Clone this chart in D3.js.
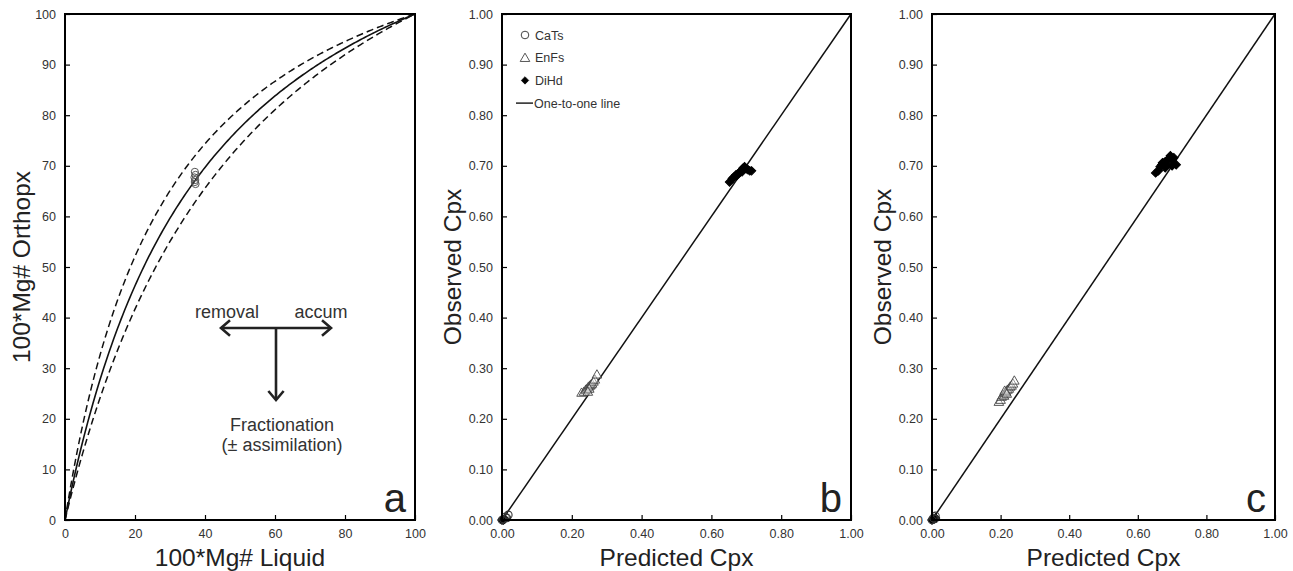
<!DOCTYPE html>
<html>
<head>
<meta charset="utf-8">
<script src="https://cdn.jsdelivr.net/npm/d3@7"></script>
<style>
  html, body { margin: 0; padding: 0; background: #fff; }
  svg { display: block; font-family: "Liberation Sans", Arial, sans-serif; }
</style>
</head>
<body>
<svg id="fig" width="1293" height="571"></svg>
<script>
// ---- Panel a: opx–liquid Fe-Mg equilibrium (Rhodes-style diagram) ----
const kdCentral = 0.29;              // central Kd(Fe-Mg) opx-liq
const kdBand = [0.23, 0.35];         // ± 0.06 envelope
const opxLiquidMg = [37.1, 37.3, 37.0, 37.2, 37.1, 37.3];
const opxObservedMg = [68.8, 68.2, 67.7, 67.2, 66.8, 66.4];
const aTicksX = [0, 20, 40, 60, 80, 100];
const aTicksY = [0, 10, 20, 30, 40, 50, 60, 70, 80, 90, 100];

// ---- Panel b: predicted vs observed cpx components ----
const bCaTsPred = [0.000, 0.004, 0.010, 0.014, 0.018];
const bCaTsObs  = [0.000, 0.002, 0.006, 0.004, 0.010];
const bEnFsPred = [0.228, 0.235, 0.240, 0.244, 0.248, 0.252, 0.255, 0.258, 0.262, 0.266, 0.272, 0.250, 0.246];
const bEnFsObs  = [0.250, 0.252, 0.256, 0.258, 0.262, 0.264, 0.266, 0.268, 0.272, 0.276, 0.286, 0.258, 0.252];
const bDiHdPred = [0.000, 0.004, 0.008, 0.652, 0.660, 0.665, 0.670, 0.675, 0.680, 0.685, 0.690, 0.695, 0.700, 0.705, 0.710, 0.715, 0.688, 0.672];
const bDiHdObs  = [0.000, 0.000, 0.002, 0.668, 0.675, 0.678, 0.682, 0.684, 0.686, 0.690, 0.695, 0.698, 0.694, 0.692, 0.690, 0.690, 0.688, 0.680];

// ---- Panel c: predicted vs observed cpx components ----
const cCaTsPred = [0.000, 0.004, 0.008, 0.010];
const cCaTsObs  = [0.000, 0.004, 0.002, 0.008];
const cEnFsPred = [0.195, 0.200, 0.203, 0.207, 0.210, 0.213, 0.216, 0.220, 0.224, 0.228, 0.232, 0.236, 0.240, 0.212, 0.218];
const cEnFsObs  = [0.232, 0.236, 0.242, 0.246, 0.244, 0.250, 0.252, 0.256, 0.258, 0.262, 0.264, 0.268, 0.274, 0.254, 0.248];
const cDiHdPred = [0.000, 0.006, 0.010, 0.652, 0.660, 0.665, 0.670, 0.675, 0.680, 0.685, 0.690, 0.695, 0.700, 0.705, 0.712, 0.700, 0.680, 0.672];
const cDiHdObs  = [0.000, 0.002, 0.004, 0.686, 0.690, 0.698, 0.702, 0.705, 0.708, 0.702, 0.714, 0.720, 0.712, 0.716, 0.702, 0.700, 0.696, 0.706];

const cpxTicksX = [0, 0.2, 0.4, 0.6, 0.8, 1.0];
const cpxTicksY = [0, 0.1, 0.2, 0.3, 0.4, 0.5, 0.6, 0.7, 0.8, 0.9, 1.0];
const legendLabels = ["CaTs", "EnFs", "DiHd", "One-to-one line"];

const svg = d3.select("#fig");
const TOP = 14, BOTTOM = 520;
const tickColor = "#333";

function drawFrame(g, x, y, ticksX, ticksY, fmt, xTitle, yTitle, letter, yTitleGap) {
  const [x0, x1] = x.range();
  const [y0, y1] = y.range();
  // inward ticks on left and bottom
  g.append("g")
    .attr("transform", `translate(0,${y0})`)
    .call(d3.axisBottom(x).tickValues(ticksX).tickSizeInner(-5).tickSizeOuter(0).tickPadding(9).tickFormat(fmt))
    .call(s => s.select(".domain").remove())
    .call(s => s.selectAll("line").attr("stroke", "#000").attr("stroke-width", 1.2))
    .call(s => s.selectAll("text").attr("font-size", 12.5).attr("fill", tickColor).attr("font-family", "Liberation Sans, Arial, sans-serif"));
  g.append("g")
    .attr("transform", `translate(${x0},0)`)
    .call(d3.axisLeft(y).tickValues(ticksY).tickSizeInner(-5).tickSizeOuter(0).tickPadding(9).tickFormat(fmt))
    .call(s => s.select(".domain").remove())
    .call(s => s.selectAll("line").attr("stroke", "#000").attr("stroke-width", 1.2))
    .call(s => s.selectAll("text").attr("font-size", 12.5).attr("fill", tickColor).attr("font-family", "Liberation Sans, Arial, sans-serif"));
  // full box
  g.append("rect")
    .attr("x", x0).attr("y", y1)
    .attr("width", x1 - x0).attr("height", y0 - y1)
    .attr("fill", "none").attr("stroke", "#000").attr("stroke-width", 2);
  // axis titles
  g.append("text")
    .attr("x", (x0 + x1) / 2).attr("y", y0 + 46)
    .attr("text-anchor", "middle").attr("font-size", 24.5).attr("fill", "#222")
    .text(xTitle);
  g.append("text")
    .attr("transform", `translate(${x0 - yTitleGap},${(y0 + y1) / 2}) rotate(-90)`)
    .attr("text-anchor", "middle").attr("dominant-baseline", "central")
    .attr("font-size", 24.5).attr("fill", "#222")
    .text(yTitle);
  // panel letter
  g.append("text")
    .attr("x", x1 - 9).attr("y", y0 - 8)
    .attr("text-anchor", "end").attr("font-size", 40).attr("fill", "#222")
    .text(letter);
}

function arrowHead(g, tip, dir, size) {
  // open chevron head pointing along dir (unit vector)
  const [dx, dy] = dir;
  const px = -dy, py = dx;
  const b = [tip[0] - dx * size, tip[1] - dy * size];
  g.append("path")
    .attr("d", `M${b[0] + px * size * 0.85},${b[1] + py * size * 0.85}L${tip[0]},${tip[1]}L${b[0] - px * size * 0.85},${b[1] - py * size * 0.85}`)
    .attr("fill", "none").attr("stroke", "#222").attr("stroke-width", 2.6)
    .attr("stroke-linejoin", "miter");
}

// ================= Panel a =================
{
  const g = svg.append("g");
  const x = d3.scaleLinear().domain([0, 100]).range([65, 415]);
  const y = d3.scaleLinear().domain([0, 100]).range([BOTTOM, TOP]);

  const equilibrium = kd => d3.range(0, 100.001, 0.5).map(v => {
    const opx = v === 0 ? 0 : 100 / (1 + kd * (100 / v - 1));
    return [v, opx];
  });
  const line = d3.line().x(d => x(d[0])).y(d => y(d[1]));

  kdBand.forEach(kd => {
    g.append("path").attr("d", line(equilibrium(kd)))
      .attr("fill", "none").attr("stroke", "#111").attr("stroke-width", 1.5)
      .attr("stroke-dasharray", "7,4");
  });
  g.append("path").attr("d", line(equilibrium(kdCentral)))
    .attr("fill", "none").attr("stroke", "#111").attr("stroke-width", 1.6);

  g.selectAll("circle.pt").data(opxLiquidMg).join("circle")
    .attr("class", "pt")
    .attr("cx", d => x(d)).attr("cy", (d, i) => y(opxObservedMg[i]))
    .attr("r", 3.6).attr("fill", "none").attr("stroke", "#555").attr("stroke-width", 1);

  drawFrame(g, x, y, aTicksX, aTicksY, d3.format("d"), "100*Mg# Liquid", "100*Mg# Orthopx", "a", 44);

  // process arrows
  const ax = 276, ay = 328;
  g.append("line").attr("x1", 221).attr("y1", ay).attr("x2", 331).attr("y2", ay)
    .attr("stroke", "#222").attr("stroke-width", 2.6);
  g.append("line").attr("x1", ax).attr("y1", ay).attr("x2", ax).attr("y2", 400)
    .attr("stroke", "#222").attr("stroke-width", 2.6);
  arrowHead(g, [221, ay], [-1, 0], 9);
  arrowHead(g, [331, ay], [1, 0], 9);
  arrowHead(g, [ax, 400], [0, 1], 9);

  const ann = (tx, ty, s, anchor) => g.append("text").attr("x", tx).attr("y", ty)
    .attr("text-anchor", anchor).attr("font-size", 18).attr("fill", "#333").text(s);
  ann(227, 318, "removal", "middle");
  ann(321, 318, "accum", "middle");
  ann(282, 431, "Fractionation", "middle");
  ann(282, 451, "(\u00b1 assimilation)", "middle");
}

// ================= Panels b and c =================
function cpxPanel(x0, x1, sets, letter, withLegend) {
  const g = svg.append("g");
  const x = d3.scaleLinear().domain([0, 1]).range([x0, x1]);
  const y = d3.scaleLinear().domain([0, 1]).range([BOTTOM, TOP]);

  g.append("line")
    .attr("x1", x(0)).attr("y1", y(0)).attr("x2", x(1)).attr("y2", y(1))
    .attr("stroke", "#111").attr("stroke-width", 1.5);

  const tri = d3.symbol().type(d3.symbolTriangle).size(40);
  const dia = d3.symbol().type(d3.symbolSquare).size(36);

  g.selectAll("path.enfs").data(sets.enfs[0]).join("path")
    .attr("class", "enfs")
    .attr("transform", (d, i) => `translate(${x(d)},${y(sets.enfs[1][i])})`)
    .attr("d", tri).attr("fill", "#fff").attr("fill-opacity", 0.4)
    .attr("stroke", "#444").attr("stroke-width", 0.9);
  g.selectAll("path.dihd").data(sets.dihd[0]).join("path")
    .attr("class", "dihd")
    .attr("transform", (d, i) => `translate(${x(d)},${y(sets.dihd[1][i])}) rotate(45)`)
    .attr("d", dia).attr("fill", "#000").attr("stroke", "#000").attr("stroke-width", 1);
  g.selectAll("circle.cats").data(sets.cats[0]).join("circle")
    .attr("class", "cats")
    .attr("cx", d => x(d)).attr("cy", (d, i) => y(sets.cats[1][i]))
    .attr("r", 3.8).attr("fill", "none").attr("stroke", "#333").attr("stroke-width", 1.1);

  drawFrame(g, x, y, cpxTicksX, cpxTicksY, d3.format(".2f"), "Predicted Cpx", "Observed Cpx", letter, 50);

  if (withLegend) {
    const lx = x0 + 23, ly0 = 35, step = 22.7;
    const legendDia = d3.symbol().type(d3.symbolSquare).size(28);
    const lg = g.append("g");
    lg.append("circle").attr("cx", lx).attr("cy", ly0).attr("r", 3.8)
      .attr("fill", "none").attr("stroke", "#444").attr("stroke-width", 1);
    lg.append("path").attr("transform", `translate(${lx},${ly0 + step + 1})`)
      .attr("d", tri).attr("fill", "none").attr("stroke", "#444").attr("stroke-width", 0.9);
    lg.append("path").attr("transform", `translate(${lx},${ly0 + 2 * step}) rotate(45)`)
      .attr("d", legendDia).attr("fill", "#000").attr("stroke", "#000").attr("stroke-width", 0.6);
    lg.append("line").attr("x1", x0 + 14).attr("x2", x0 + 31)
      .attr("y1", ly0 + 3 * step).attr("y2", ly0 + 3 * step)
      .attr("stroke", "#111").attr("stroke-width", 1.4);
    legendLabels.forEach((s, i) => {
      lg.append("text").attr("x", i === 3 ? x0 + 32 : lx + 10).attr("y", ly0 + i * step + 4.5)
        .attr("font-size", 12.5).attr("fill", "#333").text(s);
    });
  }
}

cpxPanel(502, 851, {
  cats: [bCaTsPred, bCaTsObs],
  enfs: [bEnFsPred, bEnFsObs],
  dihd: [bDiHdPred, bDiHdObs]
}, "b", true);

cpxPanel(932, 1275, {
  cats: [cCaTsPred, cCaTsObs],
  enfs: [cEnFsPred, cEnFsObs],
  dihd: [cDiHdPred, cDiHdObs]
}, "c", false);
</script>
</body>
</html>
